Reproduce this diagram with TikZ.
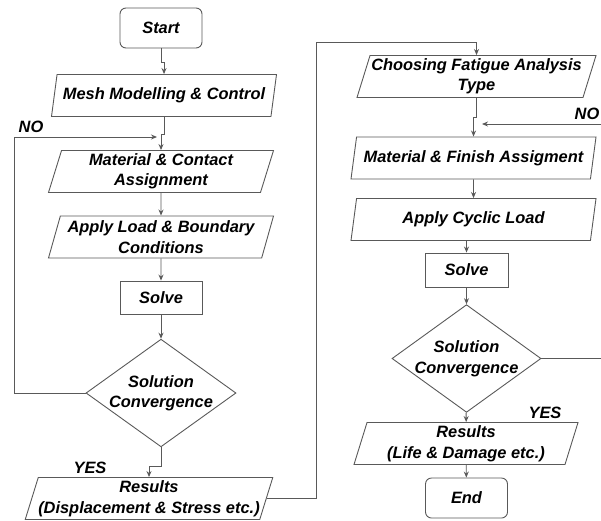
\documentclass[tikz,border=0pt]{standalone}
\usepackage{fontspec}
\setmainfont{Liberation Sans}
\usetikzlibrary{shapes.geometric,arrows.meta}

\begin{document}
\begin{tikzpicture}[>={Stealth[length=6pt,width=5pt]}, x=1pt, y=-1pt,
        every node/.style={font=\fontsize{16.4}{20.5}\selectfont\bfseries\itshape, align=center},
        wire/.style={draw=black!65, line width=0.9pt},
        term/.style={wire, rectangle, rounded corners=6pt, minimum width=82pt, minimum height=40pt},
        io/.style={wire, trapezium, trapezium left angle=70, trapezium right angle=110,
            trapezium stretches body, minimum width=225pt, minimum height=42pt, inner sep=0pt},
        proc/.style={wire, rectangle, minimum width=82pt, minimum height=33pt},
        dec/.style={wire, diamond, minimum width=150pt, minimum height=100pt, inner sep=-8pt}]
        \useasboundingbox (0,0) rectangle (601,520);
        % static analysis
        \node[term] (start) at (161,28) {Start};
        \node[io] (mesh) at (164,95.5) {Mesh Modelling \& Control};
        \node[io] (matcon) at (161,171.5) {Material \& Contact\\Assignment};
        \node[io] (load) at (161,237) {Apply Load \& Boundary\\Conditions};
        \node[proc] (solve) at (161,297.5) {Solve};
        \node[dec] (conv) at (161,393) {Solution\\Convergence};
        \node[io, minimum width=247pt] (res) at (149,498.5) {Results\\(Displacement \& Stress etc.)};
        \node (no1) at (31,127) {NO};
        \node (yes1) at (90,468) {YES};
        % fatigue analysis
        \node[io, minimum width=239pt] (choose) at (476.5,76.5) {Choosing Fatigue Analysis\\Type};
        \node[io, minimum width=245pt] (matfin) at (473.5,158) {Material \& Finish Assigment};
        \node[io, minimum width=245pt] (cyclic) at (473.5,219.5) {Apply Cyclic Load};
        \node[proc, minimum width=83pt, minimum height=34pt] (solve2) at (466.5,270) {Solve};
        \node[dec, minimum width=149pt, minimum height=101pt] (conv2) at (466.5,358.5) {Solution\\Convergence};
        \node[io, minimum width=224pt] (res2) at (466,443.5) {Results\\(Life \& Damage etc.)};
        \node[term] (stop) at (466.5,498) {End};
        \node (no2) at (587,114) {NO};
        \node (yes2) at (545,413) {YES};
        \coordinate (loop1) at (14,137);
        \coordinate (tip1) at (157,137);
        \coordinate (up1) at (316,42);
        \coordinate (no2in) at (601,124);
        \coordinate (tip2) at (482,124);
        % connectors
        \draw[wire,->] (start.south) -- ++(0,14) -| (mesh.north);
        \draw[wire,->] (mesh.south) -- ++(0,17) -| (matcon.north);
        \draw[wire,->] (matcon) -- (load);
        \draw[wire,->] (load) -- (solve);
        \draw[wire,->] (solve) -- (conv);
        \draw[wire,->] (conv.west) -| (loop1) -- (tip1);
        \draw[wire,->] (conv.south) -- ++(0,19) -| (res.north);
        \draw[wire,->] (res.east) -| (up1) -| (choose.north);
        \draw[wire,->] (choose.south) -- ++(0,19) -| (matfin.north);
        \draw[wire,->] (no2in) -- (tip2);
        \draw[wire,->] (matfin) -- (cyclic);
        \draw[wire,->] (solve2.north |- cyclic.south) -- (solve2.north);
        \draw[wire,->] (solve2) -- (conv2);
        \draw[wire] (conv2.east) -- (conv2.east -| no2in);
        \draw[wire,->] (conv2) -- (res2);
        \draw[wire,->] (res2) -- (stop);
    \end{tikzpicture}
\end{document}
